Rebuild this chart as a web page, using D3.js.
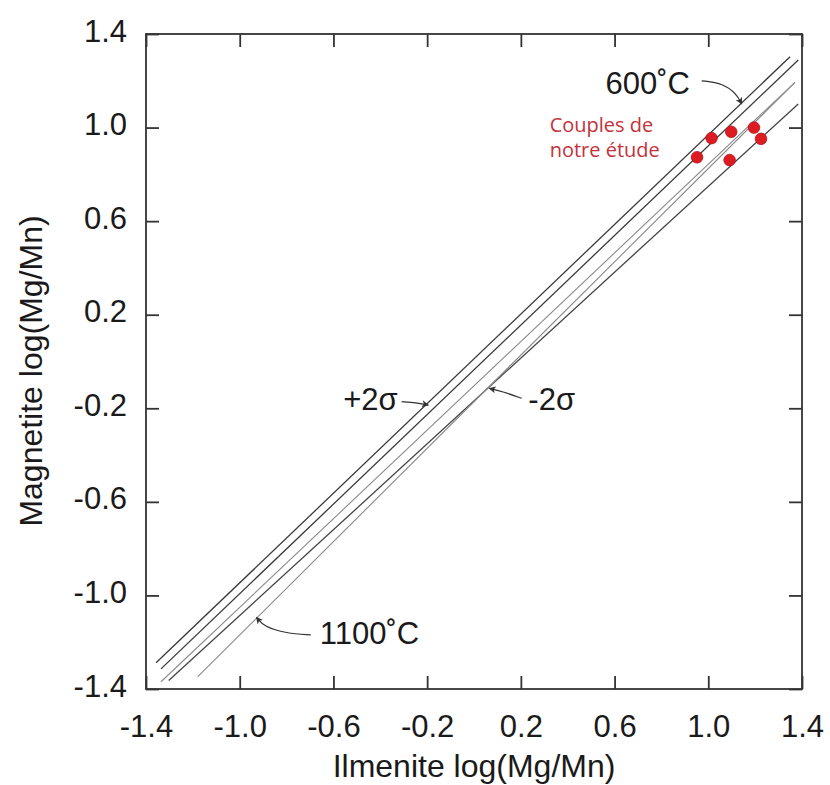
<!DOCTYPE html>
<html>
<head>
<meta charset="utf-8">
<script src="https://cdn.jsdelivr.net/npm/d3@7"></script>
<style>
  html, body { margin: 0; padding: 0; background: #ffffff; }
  svg { display: block; }
</style>
</head>
<body>
<svg id="chart" width="830" height="785"></svg>
<script>
// ---------------- data ----------------
const X_TICKS = [-1.4, -1.0, -0.6, -0.2, 0.2, 0.6, 1.0, 1.4];
const Y_TICKS = [-1.4, -1.0, -0.6, -0.2, 0.2, 0.6, 1.0, 1.4];
const X_TICK_LABELS = ["-1.4", "-1.0", "-0.6", "-0.2", "0.2", "0.6", "1.0", "1.4"];
const Y_TICK_LABELS = ["-1.4", "-1.0", "-0.6", "-0.2", "0.2", "0.6", "1.0", "1.4"];

// reference lines (start / end points, data units)
const line600C    = [[-1.357, -1.288], [1.349, 1.303]];
const linePlus2s  = [[-1.336, -1.314], [1.384, 1.289]];
const lineMean    = [[-1.336, -1.369], [1.370, 1.1935]];
const lineMinus2s = [[-1.303, -1.364], [1.384, 1.101]];
const line1100C   = [[-1.179, -1.347], [1.370, 1.1935]];

// measured couples ("Couples de notre étude")
const coupleX = [0.952, 1.014, 1.098, 1.195, 1.225, 1.091];
const coupleY = [0.873, 0.955, 0.982, 1.000, 0.952, 0.861];

// annotation texts and arrows (data units)
const labelTexts = ["600˚C", "1100˚C", "+2σ", "-2σ"];
const labelX     = [0.561, -0.658, -0.558, 0.232];
const labelY     = [1.1435, -1.2076, -0.2073, -0.2073];
const arrow600   = [[0.972, 1.200], [1.064, 1.189], [1.121, 1.1435], [1.1426, 1.1008]];
const arrow1100  = [[-0.6966, -1.169], [-0.801, -1.162], [-0.8963, -1.1337], [-0.9288, -1.0935]];
const arrowPlus  = [[-0.3086, -0.1718], [-0.2476, -0.1753], [-0.195, -0.186]];
const arrowMinus = [[0.2036, -0.1573], [0.1251, -0.1291], [0.0653, -0.1146]];
const legendLines = ["Couples de", "notre étude"];
const legendX = 0.323;
const legendY = [0.9823, 0.8755];

// ---------------- drawing ----------------
const svg = d3.select("#chart");
const W = 830, H = 785;
const m = { left: 146, right: 802, top: 34, bottom: 689 };

const x = d3.scaleLinear().domain([-1.4, 1.4]).range([m.left, m.right]);
const y = d3.scaleLinear().domain([-1.4, 1.4]).range([m.bottom, m.top]);

const FONT = "'Liberation Sans', Arial, Helvetica, sans-serif";
const INK = "#1a1a1a";

svg.append("rect").attr("width", W).attr("height", H).attr("fill", "#ffffff");

const defs = svg.append("defs");
defs.append("marker")
  .attr("id", "arrowHead")
  .attr("viewBox", "0 0 10 10")
  .attr("refX", 9).attr("refY", 5)
  .attr("markerWidth", 7).attr("markerHeight", 7)
  .attr("markerUnits", "userSpaceOnUse")
  .attr("orient", "auto")
  .append("path")
  .attr("d", "M0,0 L10,5 L0,10 L2.5,5 Z")
  .attr("fill", "#333");

// axes
const tickLen = 13;
const gx = svg.append("g").attr("transform", `translate(0,${m.bottom})`)
  .call(d3.axisBottom(x).tickValues(X_TICKS)
    .tickFormat((d, i) => X_TICK_LABELS[i])
    .tickSizeInner(-tickLen).tickSizeOuter(0).tickPadding(26));
const gy = svg.append("g").attr("transform", `translate(${m.left},0)`)
  .call(d3.axisLeft(y).tickValues(Y_TICKS)
    .tickFormat((d, i) => Y_TICK_LABELS[i])
    .tickSizeInner(-tickLen).tickSizeOuter(0).tickPadding(19));
const gt = svg.append("g").attr("transform", `translate(0,${m.top})`)
  .call(d3.axisTop(x).tickValues(X_TICKS).tickFormat("")
    .tickSizeInner(-tickLen).tickSizeOuter(0));
const gr = svg.append("g").attr("transform", `translate(${m.right},0)`)
  .call(d3.axisRight(y).tickValues(Y_TICKS).tickFormat("")
    .tickSizeInner(-tickLen).tickSizeOuter(0));

[gx, gy, gt, gr].forEach(g => {
  g.select(".domain").remove();
  g.selectAll(".tick line").attr("stroke", "#333").attr("stroke-width", 1.8);
  g.selectAll(".tick text")
    .attr("fill", INK)
    .style("font-family", FONT)
    .style("font-size", "31px");
});
gy.selectAll(".tick text").attr("dy", "0.23em");

// frame
svg.append("rect")
  .attr("x", x(-1.4)).attr("y", y(1.4))
  .attr("width", x(1.4) - x(-1.4)).attr("height", y(-1.4) - y(1.4))
  .attr("fill", "none").attr("stroke", "#333").attr("stroke-width", 1.8);

// axis titles
svg.append("text")
  .attr("x", (m.left + m.right) / 2).attr("y", 777)
  .attr("text-anchor", "middle")
  .attr("fill", INK)
  .style("font-family", FONT).style("font-size", "32px")
  .text("Ilmenite log(Mg/Mn)");
svg.append("text")
  .attr("transform", `translate(42,371) rotate(-90)`)
  .attr("text-anchor", "middle")
  .attr("fill", INK)
  .style("font-family", FONT).style("font-size", "32px")
  .text("Magnetite log(Mg/Mn)");

// reference lines
const lineGen = d3.line().x(d => x(d[0])).y(d => y(d[1]));
const refLines = [
  { pts: line600C,    color: "#3a3a3a", w: 1.3 },
  { pts: linePlus2s,  color: "#3a3a3a", w: 1.3 },
  { pts: lineMean,    color: "#8a8a8a", w: 1.1 },
  { pts: lineMinus2s, color: "#444444", w: 1.3 },
  { pts: line1100C,   color: "#8a8a8a", w: 1.1 }
];
svg.append("g").selectAll("path").data(refLines).join("path")
  .attr("d", d => lineGen(d.pts))
  .attr("fill", "none")
  .attr("stroke", d => d.color)
  .attr("stroke-width", d => d.w);

// arrows
const curveGen = d3.line().x(d => x(d[0])).y(d => y(d[1])).curve(d3.curveBasis);
svg.append("g").selectAll("path").data([arrow600, arrow1100, arrowPlus, arrowMinus]).join("path")
  .attr("d", d => curveGen(d))
  .attr("fill", "none")
  .attr("stroke", "#333")
  .attr("stroke-width", 1.2)
  .attr("marker-end", "url(#arrowHead)");

// labels
svg.append("g").selectAll("text").data(labelTexts).join("text")
  .attr("x", (d, i) => x(labelX[i]))
  .attr("y", (d, i) => y(labelY[i]))
  .attr("fill", INK)
  .style("font-family", FONT).style("font-size", "31px")
  .text(d => d);

// couples
svg.append("g").selectAll("circle").data(coupleX).join("circle")
  .attr("cx", (d, i) => x(coupleX[i]))
  .attr("cy", (d, i) => y(coupleY[i]))
  .attr("r", 5.8)
  .attr("fill", "#dd1c22")
  .attr("stroke", "#b5121a")
  .attr("stroke-width", 0.8);

svg.append("g").selectAll("text").data(legendLines).join("text")
  .attr("x", x(legendX))
  .attr("y", (d, i) => y(legendY[i]))
  .attr("fill", "#c4323a")
  .style("font-family", "'Open Sans', 'Noto Sans', sans-serif")
  .style("font-size", "20px")
  .text(d => d);
</script>
</body>
</html>
